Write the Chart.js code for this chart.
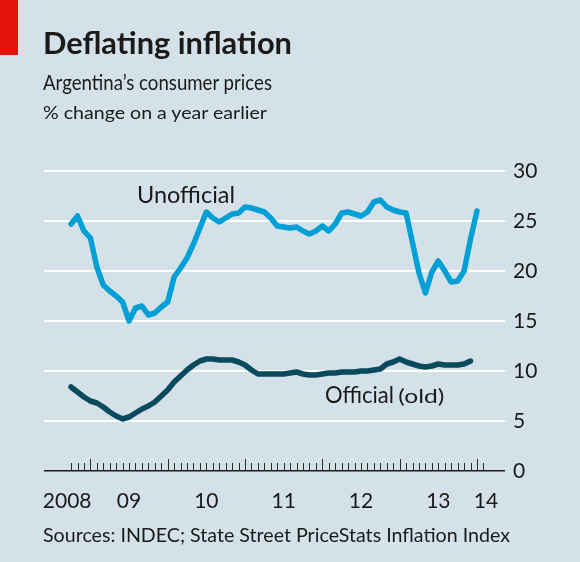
<!DOCTYPE html>
<html><head><meta charset="utf-8">
<script src="https://cdn.jsdelivr.net/npm/chart.js@4.4.1/dist/chart.umd.min.js"></script>
<style>
html,body{margin:0;padding:0;}
body{width:580px;height:562px;background:#d5e1e8;position:relative;overflow:hidden;font-family:Lato,sans-serif;color:#1a1a1a;}
#c{position:absolute;left:0;top:0;}
.t{position:absolute;left:43px;white-space:nowrap;line-height:1;transform-origin:0 0;}
#red{position:absolute;left:0;top:0;width:18px;height:55px;background:#e3120b;}
</style></head><body>
<canvas id="c" width="580" height="562"></canvas>
<div id="red"></div>
<div class="t" data-w="249" style="top:26.7px;font-size:30px;font-weight:700;">Deflating inflation</div>
<div class="t" data-w="229" style="top:71.4px;font-size:21px;">Argentina’s consumer prices</div>
<div class="t" data-w="224" style="top:103.8px;font-size:17.5px;">% change on a year earlier</div>
<div class="t" data-w="467" style="top:524px;font-size:20px;">Sources: INDEC; State Street PriceStats Inflation Index</div>
<script>
// First observation: October 2008, monthly
const startYear = 2008, startMonth = 10;
const unofficial = [24.7,25.5,24.0,23.3,20.4,18.6,18.0,17.5,16.9,15.0,16.3,16.5,15.6,15.8,16.4,16.9,
  19.4,20.3,21.3,22.7,24.3,25.9,25.3,24.9,25.3,25.7,25.8,26.4,26.3,26.1,25.9,25.3,
  24.5,24.4,24.3,24.4,24.0,23.7,24.0,24.5,24.0,24.7,25.8,25.9,25.7,25.5,25.9,26.9,
  27.1,26.4,26.1,25.9,25.8,22.8,19.8,17.8,19.9,21.0,20.0,18.9,19.0,20.0,23.2,26.0];
const official = [8.4,7.9,7.4,7.0,6.8,6.4,5.9,5.5,5.2,5.4,5.8,6.2,6.5,6.9,7.5,8.1,
  8.9,9.5,10.1,10.6,11.0,11.2,11.2,11.1,11.1,11.1,10.9,10.6,10.1,9.7,9.7,9.7,
  9.7,9.7,9.8,9.9,9.7,9.6,9.6,9.7,9.8,9.8,9.9,9.9,9.9,10.0,10.0,10.1,
  10.2,10.7,10.9,11.2,10.9,10.7,10.5,10.4,10.5,10.7,10.6,10.6,10.6,10.7,11.0];
const years = [2008,2009,2010,2011,2012,2013,2014];
const yearLabels = ['2008','09','10','11','12','13','14'];
const yTicks = [0,5,10,15,20,25,30];

const N = unofficial.length;
const pts = arr => arr.map((v,i)=>({x:i,y:v}));
const yearTickValues = years.map(y => {
  const mid = (y - startYear)*12 + 6 - (startMonth - 1);
  return Math.min(Math.max(mid, -0.6), N + 0.4);
});

const FONT = 'Lato, sans-serif';
const TXT = '#1a1a1a';

const monthTicks = {
  id:'monthTicks',
  afterDraw(chart){
    const {ctx, scales:{x,y}} = chart;
    const y0 = y.getPixelForValue(0);
    ctx.save(); ctx.strokeStyle='#2a2a2a'; ctx.lineWidth=1;
    for (let i=0;i<=N;i++){
      const m=(startMonth-1+i)%12;
      const px=Math.round(x.getPixelForValue(i))+0.5;
      const h = m===0?12:8;
      ctx.beginPath(); ctx.moveTo(px,y0); ctx.lineTo(px,y0-h); ctx.stroke();
    }
    ctx.restore();
  }
};

function drawFit(ctx, text, px, py, size, w){
  ctx.font = size+'px '+FONT;
  const mw = ctx.measureText(text).width;
  ctx.save(); ctx.translate(px,py); ctx.scale(w/mw,1);
  ctx.fillText(text,0,0); ctx.restore();
}
const seriesLabels = {
  id:'seriesLabels',
  afterDatasetsDraw(chart){
    const {ctx, scales:{x,y}} = chart;
    ctx.save(); ctx.fillStyle=TXT; ctx.textBaseline='alphabetic'; ctx.textAlign='left';
    drawFit(ctx,'Unofficial', x.getPixelForValue(10.24), y.getPixelForValue(26.8), 24, 98);
    drawFit(ctx,'Official', x.getPixelForValue(39.4), y.getPixelForValue(6.77), 24, 69);
    drawFit(ctx,'(old)', x.getPixelForValue(50.8), y.getPixelForValue(6.77), 19, 46);
    ctx.restore();
  }
};

new Chart(document.getElementById('c'), {
  type:'line',
  data:{datasets:[
    {label:'Unofficial', data:pts(unofficial), borderColor:'#00a0d6', borderWidth:5.5, pointRadius:0,
     borderCapStyle:'round', borderJoinStyle:'round', tension:0, clip:false},
    {label:'Official (old)', data:pts(official), borderColor:'#0a4a5e', borderWidth:5.5, pointRadius:0,
     borderCapStyle:'round', borderJoinStyle:'round', tension:0, clip:false}
  ]},
  options:{
    responsive:false, animation:false, devicePixelRatio:1,
    layout:{padding:{left:44, top:171, right:0, bottom:0}},
    plugins:{legend:{display:false}, tooltip:{enabled:false}},
    scales:{
      x:{type:'linear', min:-4.2, max:67.35,
        grid:{display:false, drawTicks:false}, border:{display:false},
        afterBuildTicks: s => { s.ticks = yearTickValues.map(v=>({value:v})); },
        afterFit: s => { s.height = 91; },
        ticks:{autoSkip:false, maxRotation:0, padding:18, color:TXT, font:{family:FONT, size:21},
          callback:(v,i)=>yearLabels[i]}
      },
      y:{position:'right', min:0, max:30,
        afterBuildTicks: s => { s.ticks = yTicks.map(v=>({value:v})); },
        afterFit: s => { s.width = 75; },
        grid:{drawTicks:false, color:c=>c.tick && c.tick.value===0 ? '#1a1a1a' : '#ffffff',
          lineWidth:c=>c.tick && c.tick.value===0 ? 1.5 : 2},
        border:{display:false},
        ticks:{padding:8, color:TXT, font:{family:FONT, size:21}}
      }
    }
  },
  plugins:[monthTicks, seriesLabels]
});

function fit(){
  document.querySelectorAll('.t').forEach(el=>{
    el.style.transform='none';
    const w = el.getBoundingClientRect().width;
    el.style.transform = 'scaleX('+(parseFloat(el.dataset.w)/w)+')';
  });
}
fit();
if (document.fonts && document.fonts.ready) document.fonts.ready.then(fit);
</script>
</body></html>
